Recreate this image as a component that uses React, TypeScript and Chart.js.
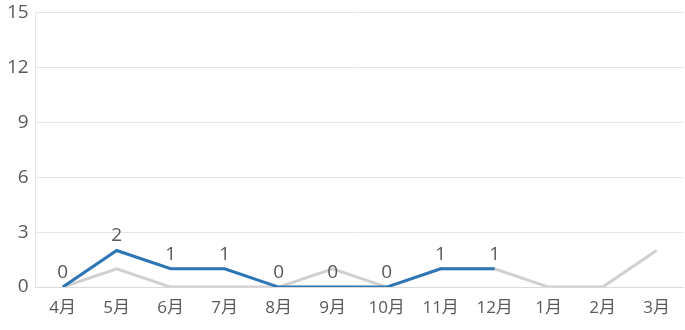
import React, { useEffect, useRef } from "react";
import { Chart, registerables } from "chart.js";

Chart.register(...registerables);

const categories = ["4月", "5月", "6月", "7月", "8月", "9月", "10月", "11月", "12月", "1月", "2月", "3月"];
const currentYear: (number | null)[] = [0, 2, 1, 1, 0, 0, 0, 1, 1, null, null, null];
const previousYear: number[] = [0, 1, 0, 0, 0, 1, 0, 1, 1, 0, 0, 2];
const yTicks = [0, 3, 6, 9, 12, 15];

const FONT = "'Open Sans', 'Noto Sans CJK JP', sans-serif";
const TEXT = "#595959";

const labelPlugin = {
  id: "pointLabels",
  afterDatasetsDraw(chart: any) {
    const ctx = chart.ctx;
    const meta = chart.getDatasetMeta(1);
    const data = chart.data.datasets[1].data;
    ctx.save();
    ctx.font = `19px ${FONT}`;
    ctx.fillStyle = TEXT;
    ctx.textAlign = "center";
    ctx.textBaseline = "alphabetic";
    meta.data.forEach((pt: any, i: number) => {
      const v = data[i];
      if (v === null || v === undefined) return;
      ctx.fillText(String(v), pt.x, pt.y - 9);
    });
    ctx.restore();
  },
};

export default function App() {
  const ref = useRef<HTMLCanvasElement>(null);
  useEffect(() => {
    document.body.style.margin = "0";
    const chart = new Chart(ref.current!, {
      type: "line",
      data: {
        labels: categories,
        datasets: [
          {
            label: "前年",
            data: previousYear,
            borderColor: "#D0D0D0",
            borderWidth: 3,
            pointRadius: 0,
            tension: 0,
            order: 2,
          },
          {
            label: "今年",
            data: currentYear,
            borderColor: "#2E75B6",
            borderWidth: 3,
            pointRadius: 0,
            tension: 0,
            spanGaps: false,
            order: 1,
          },
        ],
      },
      options: {
        animation: false,
        responsive: false,
        maintainAspectRatio: false,
        layout: { padding: { top: 0, right: 1, bottom: 0, left: 0 } },
        plugins: { legend: { display: false }, tooltip: { enabled: false } },
        scales: {
          x: {
            offset: true,
            grid: { display: false, drawTicks: false },
            border: { display: true, color: "#D9D9D9", width: 1 },
            ticks: { color: TEXT, font: { family: FONT, size: 17, lineHeight: 0.76 }, padding: 15, maxRotation: 0, autoSkip: false },
          },
          y: {
            min: 0,
            max: 15,
            afterBuildTicks: (axis: any) => {
              axis.ticks = yTicks.map((v) => ({ value: v }));
            },
            grid: { color: "#E6E6E6", lineWidth: 1, drawTicks: false },
            border: { display: true, color: "#E6E6E6" },
            ticks: { color: TEXT, font: { family: FONT, size: 19, lineHeight: 0.6 }, padding: 7 },
          },
        },
      },
      plugins: [labelPlugin],
    });
    return () => chart.destroy();
  }, []);
  return (
    <div style={{ position: "absolute", left: 0, top: 0, width: 685, height: 330 }}>
      <canvas ref={ref} width={685} height={330} style={{ width: 685, height: 330 }} />
    </div>
  );
}
